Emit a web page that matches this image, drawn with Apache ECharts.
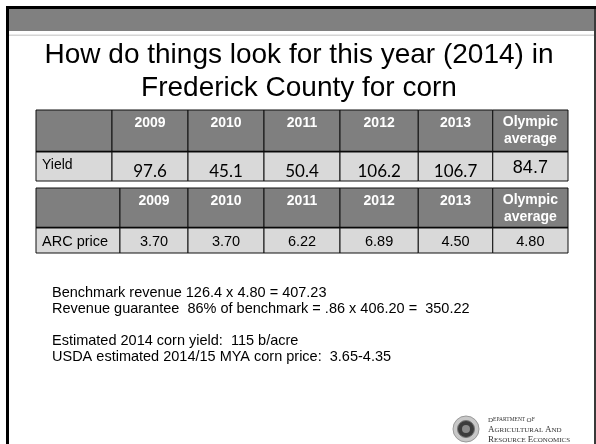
<!DOCTYPE html>
<html><head><meta charset="utf-8">
<script src="https://cdn.jsdelivr.net/npm/echarts@6/dist/echarts.min.js"></script>
<style>html,body{margin:0;padding:0;background:#fff}#c{width:596px;height:444px}</style>
</head><body><div id="c"></div>
<script>
// ---- data ----
const titleLines = ['How do things look for this year (2014) in', 'Frederick County for corn'];
const years = ['2009', '2010', '2011', '2012', '2013'];
const olympicHeader = 'Olympic\naverage';
const yieldLabel = 'Yield';
const yieldValues = [97.6, 45.1, 50.4, 106.2, 106.7];
const yieldOlympic = 84.7;
const priceLabel = 'ARC price';
const arcPrices = [3.70, 3.70, 6.22, 6.89, 4.50];
const priceOlympic = 4.80;
const noteLines = [
  'Benchmark revenue 126.4 x 4.80 = 407.23',
  'Revenue guarantee  86% of benchmark = .86 x 406.20 =  350.22',
  '',
  'Estimated 2014 corn yield:  115 b/acre',
  'USDA estimated 2014/15 MYA corn price:  3.65-4.35'
];
const logoLines = ['Department of', 'Agricultural and', 'Resource Economics'];

// ---- layout ----
const FONT = 'Liberation Sans, Arial, sans-serif';
const T1 = { top: 110, rows: [0, 42, 71], cols: [0, 1, 2, 3, 4, 5.03, 6.01, 7] };
const T2 = { top: 188, rows: [0, 40, 65], cols: [0, 1.105, 2, 3, 4, 5.03, 6.01, 7] };

function buildCells(label, values, olympic, digits, kind) {
  const cells = [];
  cells.push({ c: 0, r: 0, t: '', k: 'head' });
  years.forEach((y, i) => cells.push({ c: i + 1, r: 0, t: y, k: 'head' }));
  cells.push({ c: 6, r: 0, t: olympicHeader, k: 'headOly' });
  cells.push({ c: 0, r: 1, t: label, k: kind + 'Label' });
  values.forEach((v, i) => cells.push({ c: i + 1, r: 1, t: v.toFixed(digits), k: kind + 'Val' }));
  cells.push({ c: 6, r: 1, t: olympic.toFixed(digits), k: kind + 'Oly' });
  return cells;
}
const cells1 = buildCells(yieldLabel, yieldValues, yieldOlympic, 1, 'y');
const cells2 = buildCells(priceLabel, arcPrices, priceOlympic, 2, 'p');

function makeRender(cells, layout) {
  return function (params, api) {
    const cell = cells[params.dataIndex];
    const p0 = api.coord([layout.cols[cell.c], layout.rows[cell.r]]);
    const p1 = api.coord([layout.cols[cell.c + 1], layout.rows[cell.r + 1]]);
    const x = p0[0], y = p0[1], w = p1[0] - p0[0], h = p1[1] - p0[1];
    const head = cell.r === 0;
    const children = [{
      type: 'rect', shape: { x: x, y: y, width: w, height: h },
      style: { fill: head ? '#7f7f7f' : '#d9d9d9', stroke: '#111', lineWidth: 1 }
    }];
    if (head) {
      children.push({ type: 'line', shape: { x1: x, y1: y + h, x2: x + w, y2: y + h },
        style: { stroke: '#000', lineWidth: 2.5 } });
    }
    let st = { text: cell.t, fill: '#000', align: 'center', verticalAlign: 'middle', x: x + w / 2, y: y + h / 2 };
    switch (cell.k) {
      case 'head': Object.assign(st, { fill: '#fff', font: 'bold 14px ' + FONT, y: y + 13 }); break;
      case 'headOly': Object.assign(st, { fill: '#fff', font: 'bold 14px ' + FONT, lineHeight: 17, y: y + 21 }); break;
      case 'yLabel': Object.assign(st, { align: 'left', x: x + 6, y: y + 13, font: '14px ' + FONT }); break;
      case 'yVal': Object.assign(st, { y: y + 20, font: '17px Lato, Carlito, sans-serif' }); break;
      case 'yOly': Object.assign(st, { y: y + 16, font: '18px ' + FONT }); break;
      case 'pLabel': Object.assign(st, { align: 'left', x: x + 6, y: y + 14, font: '14.5px ' + FONT }); break;
      case 'pVal': case 'pOly': Object.assign(st, { y: y + 14, font: '14.5px ' + FONT }); break;
    }
    children.push({ type: 'text', style: st });
    return { type: 'group', children: children };
  };
}

const chart = echarts.init(document.getElementById('c'), null, { renderer: 'canvas' });

const graphics = [
  { type: 'rect', shape: { x: 6, y: 6, width: 590, height: 3 }, style: { fill: '#000' } },
  { type: 'rect', shape: { x: 6, y: 6, width: 3, height: 438 }, style: { fill: '#000' } },
  { type: 'rect', shape: { x: 9, y: 9, width: 585, height: 22 }, style: { fill: '#808080' } },
  { type: 'rect', shape: { x: 594, y: 9, width: 2, height: 435 }, style: { fill: '#3a3a3a' } },
  { type: 'rect', shape: { x: 9, y: 34.5, width: 585, height: 1.5 }, style: { fill: '#d4d4d4' } },
  { type: 'text', style: { text: titleLines.join('\n'), x: 299, y: 72, align: 'center', verticalAlign: 'middle',
      font: '28px ' + FONT, lineHeight: 33, fill: '#000' } }
];
const noteY = [293, 309, 325, 341, 357];
noteLines.forEach((t, i) => {
  if (t) graphics.push({ type: 'text', style: { text: t, x: 52, y: noteY[i], verticalAlign: 'middle', font: '14.5px ' + FONT, fill: '#000' } });
});
// logo seal
graphics.push({ type: 'circle', shape: { cx: 466, cy: 429, r: 13 }, style: { fill: '#c8c8c8', stroke: '#999', lineWidth: 1 } });
graphics.push({ type: 'circle', shape: { cx: 466, cy: 429, r: 8.5 }, style: { fill: '#3c3c3c', stroke: '#777', lineWidth: 1 } });
graphics.push({ type: 'circle', shape: { cx: 466, cy: 429, r: 4 }, style: { fill: '#8a8a8a' } });
const logoY = [420, 430, 440];
logoLines.forEach((t, i) => {
  const words = t.split(' ');
  const rich = words.map(w => '{b|' + w[0].toUpperCase() + '}{s|' + w.slice(1).toUpperCase() + '}').join('{s| }');
  graphics.push({ type: 'text', style: { text: rich, x: 488, y: logoY[i], verticalAlign: 'middle', fill: '#333',
    rich: { b: { fontFamily: 'Liberation Serif', fontSize: i === 0 ? 7 : 9, fill: '#333' },
            s: { fontFamily: 'Liberation Serif', fontSize: i === 0 ? 5.5 : 7, fill: '#333' } } } });
});

chart.setOption({
  backgroundColor: '#fff',
  animation: false,
  grid: [
    { left: 36, width: 532, top: T1.top, height: T1.rows[2] },
    { left: 36, width: 532, top: T2.top, height: T2.rows[2] }
  ],
  xAxis: [
    { type: 'value', gridIndex: 0, min: 0, max: 7, show: false },
    { type: 'value', gridIndex: 1, min: 0, max: 7, show: false }
  ],
  yAxis: [
    { type: 'value', gridIndex: 0, min: 0, max: T1.rows[2], inverse: true, show: false },
    { type: 'value', gridIndex: 1, min: 0, max: T2.rows[2], inverse: true, show: false }
  ],
  series: [
    { type: 'custom', xAxisIndex: 0, yAxisIndex: 0, clip: false, renderItem: makeRender(cells1, T1),
      data: cells1.map(c => [c.c, c.r]) },
    { type: 'custom', xAxisIndex: 1, yAxisIndex: 1, clip: false, renderItem: makeRender(cells2, T2),
      data: cells2.map(c => [c.c, c.r]) }
  ],
  graphic: graphics
});
</script></body></html>
